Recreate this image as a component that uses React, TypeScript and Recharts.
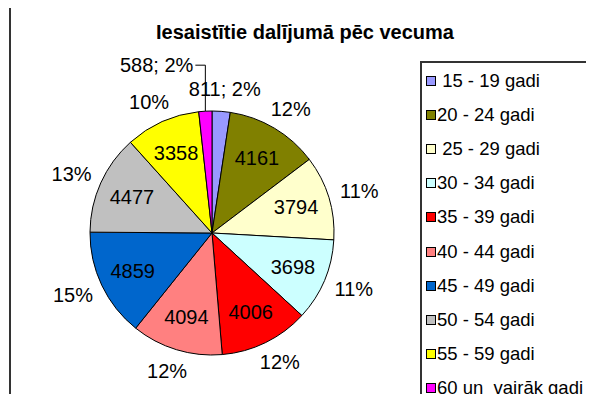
import React from 'react';
import { PieChart, Pie, Cell, Legend } from 'recharts';

const ageGroups = [
  ' 15 - 19 gadi',
  '20 - 24 gadi',
  ' 25 - 29 gadi',
  '30 - 34 gadi',
  '35 - 39 gadi',
  '40 - 44 gadi',
  '45 - 49 gadi',
  '50 - 54 gadi',
  '55 - 59 gadi',
  '60 un  vairāk gadi',
];
const participants = [811, 4161, 3794, 3698, 4006, 4094, 4859, 4477, 3358, 588];
// percentages as printed on the chart (Excel rounds them to sum 100)
const shareLabels = ['2%', '12%', '11%', '11%', '12%', '12%', '15%', '13%', '10%', '2%'];
const sliceColors = [
  '#9999FF', '#808000', '#FFFFCC', '#CCFFFF', '#FF0000',
  '#FF8080', '#0066CC', '#C0C0C0', '#FFFF00', '#FF00FF',
];

const data = ageGroups.map((name, i) => ({ name, value: participants[i] }));

const RADIAN = Math.PI / 180;
const FONT = 'Arial, "Liberation Sans", sans-serif';

function SliceLabel(props: any) {
  const { cx, cy, midAngle, outerRadius, index, value } = props;
  const cos = Math.cos(-midAngle * RADIAN);
  const sin = Math.sin(-midAngle * RADIAN);
  const share = shareLabels[index];
  const textProps = { fill: '#000', fontFamily: FONT, fontSize: 20, dominantBaseline: 'central' as const };

  // tiny slices get "value; pct" outside, the left one pulled up with a leader
  if (value < 1000) {
    const ex = cx + outerRadius * cos;
    const ey = cy + outerRadius * sin;
    if (cos < 0) {
      const ly = ey - 46;
      return (
        <g>
          <polyline points={`${ex},${ey} ${ex},${ly} ${ex - 10},${ly}`} fill="none" stroke="#000" strokeWidth={1} />
          <text x={ex - 12} y={ly} textAnchor="end" {...textProps}>{`${value}; ${share}`}</text>
        </g>
      );
    }
    const d = outerRadius + 12;
    return (
      <text x={cx + d * cos + cos * 36} y={cy + d * sin + sin * 10} textAnchor="middle" {...textProps}>
        {`${value}; ${share}`}
      </text>
    );
  }

  const ri = outerRadius * 0.72;
  const ro = outerRadius + 12;
  return (
    <g>
      <text x={cx + ri * cos} y={cy + ri * sin} textAnchor="middle" {...textProps}>{value}</text>
      <text x={cx + ro * cos + cos * 20} y={cy + ro * sin + sin * 10} textAnchor="middle" {...textProps}>
        {share}
      </text>
    </g>
  );
}

function LegendBox({ payload }: any) {
  // keep the data order (recharts sorts legend items by name)
  const items = [...(payload || [])].sort(
    (a: any, b: any) => ageGroups.indexOf(a.value) - ageGroups.indexOf(b.value)
  );
  return (
    <div
      style={{
        borderLeft: '2px solid #333',
        borderTop: '2px solid #333',
        borderRight: '2px solid #333',
        height: 360,
        paddingTop: 1,
        boxSizing: 'border-box',
      }}
    >
      {items.map((entry: any, i: number) => (
        <div key={i} style={{ display: 'flex', alignItems: 'center', height: 34.1 }}>
          <span
            style={{
              display: 'inline-block',
              width: 8,
              height: 8,
              marginLeft: 4,
              marginRight: 1,
              background: entry.color,
              border: '1px solid #000',
              flexShrink: 0,
            }}
          />
          <span style={{ fontFamily: FONT, fontSize: 18.5, color: '#000', whiteSpace: 'pre' }}>{entry.value}</span>
        </div>
      ))}
    </div>
  );
}

export default function App() {
  return (
    <div style={{ position: 'relative', width: 594, height: 402, margin: -8, overflow: 'hidden', background: '#fff' }}>
      <div
        style={{
          position: 'absolute',
          left: 9,
          top: 6,
          width: 600,
          height: 420,
          borderLeft: '2px solid #333',
          borderTop: '2px solid #333',
        }}
      />
      <div
        style={{
          position: 'absolute',
          left: 10,
          top: 20,
          width: 590,
          textAlign: 'center',
          fontFamily: FONT,
          fontWeight: 'bold',
          fontSize: 20,
          lineHeight: '24px',
          color: '#000',
        }}
      >
        Iesaistītie dalījumā pēc vecuma
      </div>
      <div style={{ position: 'absolute', left: 0, top: 0 }}>
        <PieChart width={594} height={402} margin={{ top: 0, right: 0, bottom: 0, left: 0 }}>
          <Pie
            data={data}
            dataKey="value"
            nameKey="name"
            cx={212}
            cy={233}
            outerRadius={122}
            startAngle={90}
            endAngle={-270}
            stroke="#000"
            strokeWidth={1}
            label={SliceLabel}
            labelLine={false}
            isAnimationActive={false}
          >
            {data.map((_, i) => (
              <Cell key={i} fill={sliceColors[i]} />
            ))}
          </Pie>
          <Legend
            layout="vertical"
            verticalAlign="top"
            align="right"
            content={LegendBox}
            wrapperStyle={{ position: 'absolute', left: 420, top: 61, width: 180 }}
          />
        </PieChart>
      </div>
    </div>
  );
}
